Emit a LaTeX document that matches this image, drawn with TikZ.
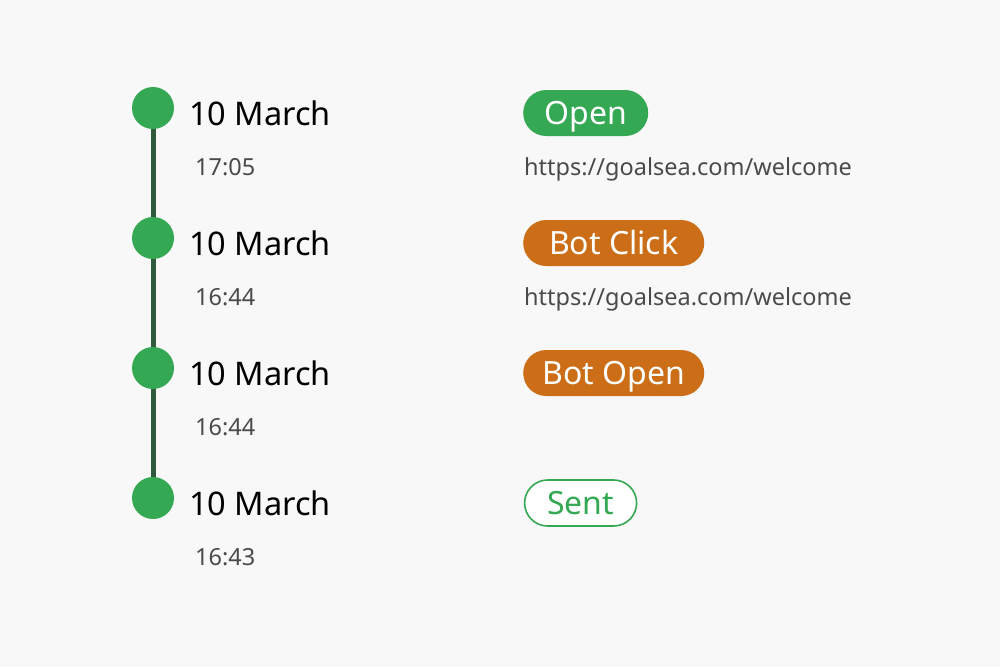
\documentclass[tikz,border=0pt]{standalone}
\usepackage{fontspec}
\setmainfont{Noto Sans}
\definecolor{bg}{HTML}{F8F8F8}
\definecolor{dotgreen}{HTML}{34A853}
\definecolor{linegreen}{HTML}{2F5A3C}
\definecolor{orangepill}{HTML}{CB6E17}
\definecolor{greytext}{HTML}{4A4A4A}
\tikzset{
  dot/.style={circle,fill=dotgreen,minimum size=42,inner sep=0},
  datetext/.style={anchor=base west,inner sep=0,font=\fontsize{32.5}{32.5}\selectfont,text=black},
  timetext/.style={anchor=base west,inner sep=0,font=\fontsize{23.5}{23.5}\selectfont,text=greytext},
  pill/.style={rounded corners=23,minimum height=46,inner sep=0,anchor=west},
  filledpill/.style={pill,fill=#1},
  outlinepill/.style={pill,draw=dotgreen,line width=1.6,fill=white},
  pilltext/.style={anchor=base,inner sep=0,font=\fontsize{32}{32}\selectfont,text=#1},
  tl/.style={draw=linegreen,line width=5},
}
\begin{document}
\begin{tikzpicture}[x=1pt,y=-1pt]
\fill[bg] (0,0) rectangle (1000,667);
\useasboundingbox (0,0) rectangle (1000,667);
% timeline
\coordinate (c1) at (153,108);
\coordinate (c2) at (153,238);
\coordinate (c3) at (153,368);
\coordinate (c4) at (153,498);
\draw[tl] (c1) -- (c2);
\draw[tl] (c2) -- (c3);
\draw[tl] (c3) -- (c4);
\node[dot] (d1) at (c1) {};
\node[dot] (d2) at (c2) {};
\node[dot] (d3) at (c3) {};
\node[dot] (d4) at (c4) {};
% dates
\node[datetext] (t1) at (189,125) {10 March};
\node[datetext] (t2) at (189,255) {10 March};
\node[datetext] (t3) at (189,385) {10 March};
\node[datetext] (t4) at (189,515) {10 March};
% times
\node[timetext] (h1) at (195,175) {17:05};
\node[timetext] (h2) at (195,305) {16:44};
\node[timetext] (h3) at (195,435) {16:44};
\node[timetext] (h4) at (195,565) {16:43};
% pills
\node[filledpill=dotgreen,minimum width=125] (p1) at (523,113) {};
\node[filledpill=orangepill,minimum width=181] (p2) at (523,243) {};
\node[filledpill=orangepill,minimum width=181] (p3) at (523,373) {};
\node[outlinepill,minimum width=112] (p4) at (523.8,503) {};
\node[pilltext=white] (l1) at ([yshift=-11]p1.center) {Open};
\node[pilltext=white] (l2) at ([yshift=-11]p2.center) {Bot Click};
\node[pilltext=white] (l3) at ([yshift=-11]p3.center) {Bot Open};
\node[pilltext=dotgreen] (l4) at ([yshift=-11]p4.center) {Sent};
% urls
\node[timetext] (u1) at (524,175) {https://goalsea.com/welcome};
\node[timetext] (u2) at (524,305) {https://goalsea.com/welcome};
\end{tikzpicture}
\end{document}
